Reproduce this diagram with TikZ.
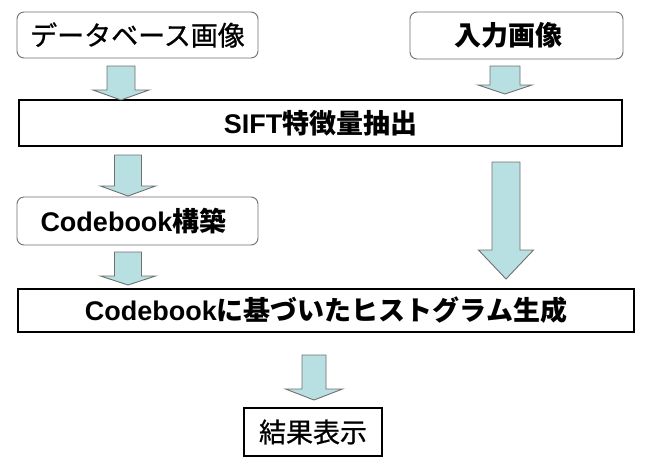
\documentclass[tikz,border=0pt]{standalone}
\usepackage{fontspec}
\setmainfont{Liberation Sans}
\newfontfamily\jp{Noto Sans CJK JP}
\newfontfamily\jpm{Noto Sans CJK JP}[FakeBold=0.8]
\definecolor{arrowfill}{HTML}{B8DFE1}
\definecolor{arrowline}{HTML}{707070}
\newcommand\blockarrow[6]{% x, ytop, yhead, ytip, shaft half width, head half width
  \draw[barrow] (#1-#5,#2) -- (#1+#5,#2) -- (#1+#5,#3) -- (#1+#6,#3) -- (#1,#4)
    -- (#1-#6,#3) -- (#1-#5,#3) -- cycle;}
\begin{document}
\begin{tikzpicture}[x=1pt,y=-1pt,
  every node/.style={font=\fontsize{27}{30}\selectfont, inner sep=0pt},
  rbox/.style={draw=arrowline, line width=0.9pt, rounded corners=7pt, fill=white},
  tbox/.style={draw=black, line width=2.4pt, fill=white},
  barrow/.style={draw=arrowline, line width=0.9pt, fill=arrowfill, line join=miter}]
\useasboundingbox (0,0) rectangle (645,459);
\fill[white] (0,0) rectangle (645,459);

\node[rbox, minimum width=241pt, minimum height=46pt] (db) at (137.5,35) {\jpm データベース画像};
\node[rbox, minimum width=213pt, minimum height=47pt] (in) at (516.5,35.5) {\jp\bfseries 入力画像\hspace*{16pt}};
\node[tbox, minimum width=603pt, minimum height=46pt] (sift) at (320.5,123) {\bfseries SIFT{\jp 特徴量抽出}};
\node[rbox, minimum width=241pt, minimum height=48pt] (cb) at (137.5,221) {\bfseries Codebook{\jp 構築}\hspace*{8pt}};
\node[tbox, minimum width=616pt, minimum height=43pt] (hist) at (326,310.5) {\bfseries Codebook{\jp に基づいたヒストグラム生成}};
\node[tbox, minimum width=138pt, minimum height=48pt] (res) at (313,432) {\jpm 結果表示};

\blockarrow{121}{66}{90}{100}{14}{28}
\blockarrow{505}{66}{85}{94}{15}{27}
\blockarrow{128}{155}{186}{196}{13.5}{27.5}
\blockarrow{128}{252}{276}{285}{13.5}{27.5}
\blockarrow{506}{162}{250}{279}{14}{27.5}
\blockarrow{314}{355}{389}{400}{12}{28.5}
\end{tikzpicture}
\end{document}
